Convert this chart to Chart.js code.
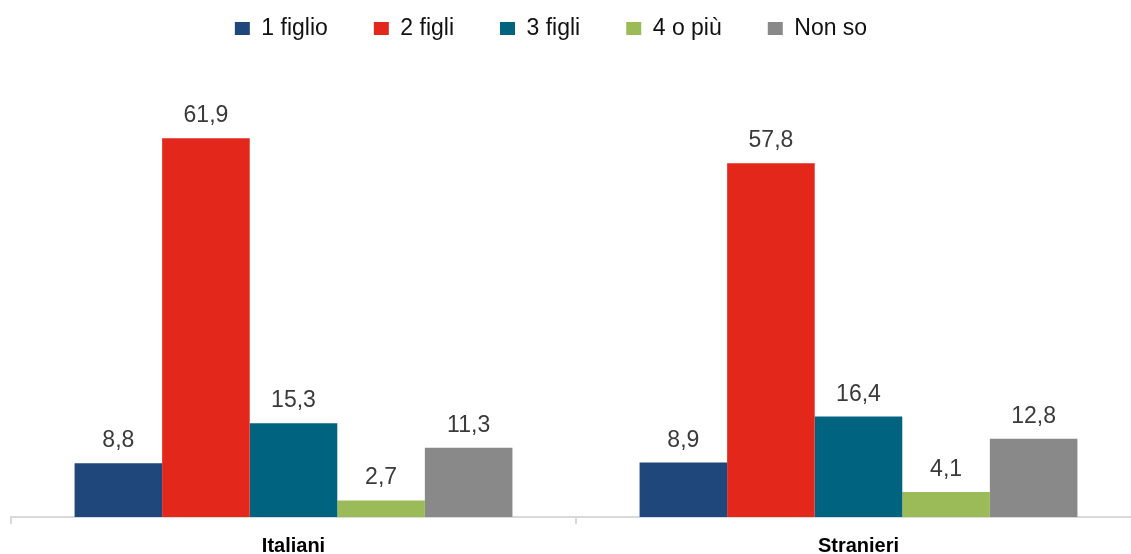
<!DOCTYPE html>
<html>
<head>
<meta charset="utf-8">
<script src="https://cdn.jsdelivr.net/npm/chart.js@4.4.1/dist/chart.umd.min.js"></script>
<style>
  html, body { margin: 0; padding: 0; background: #fff; overflow: hidden; }
  #wrap { width: 1131px; height: 554px; overflow: hidden; }
</style>
</head>
<body>
<div id="wrap"><canvas id="chart" width="1141" height="554"></canvas></div>
<script>
// --- DATA ---
const categories = ['Italiani', 'Stranieri'];
const seriesNames = ['1 figlio', '2 figli', '3 figli', '4 o più', 'Non so'];
const unFiglio = [8.8, 8.9];
const dueFigli = [61.9, 57.8];
const treFigli = [15.3, 16.4];
const quattroOPiu = [2.7, 4.1];
const nonSo = [11.3, 12.8];
const seriesColors = ['#1f477b', '#e4271b', '#006481', '#9bbb59', '#898989'];

const FONT = "'Liberation Sans', Arial, sans-serif";

// value labels on top of bars (comma decimal)
const valueLabels = {
  id: 'valueLabels',
  afterDatasetsDraw(chart) {
    const ctx = chart.ctx;
    ctx.save();
    ctx.font = '23px ' + FONT;
    ctx.fillStyle = '#3a3a3a';
    ctx.textAlign = 'center';
    ctx.textBaseline = 'alphabetic';
    chart.data.datasets.forEach((ds, i) => {
      chart.getDatasetMeta(i).data.forEach((bar, j) => {
        ctx.fillText(ds.data[j].toFixed(1).replace('.', ','), bar.x, bar.y - 16);
      });
    });
    ctx.restore();
  }
};

// legend sits a bit left of the plot centre in the original
const legendShift = {
  id: 'legendShift',
  afterLayout(chart) {
    chart.legend.left -= 25;
    chart.legend.right -= 25;
  }
};

const allSeries = [unFiglio, dueFigli, treFigli, quattroOPiu, nonSo];

new Chart(document.getElementById('chart'), {
  type: 'bar',
  data: {
    labels: categories,
    datasets: allSeries.map((vals, i) => ({
      label: seriesNames[i],
      data: vals,
      backgroundColor: seriesColors[i],
      borderWidth: 0,
      categoryPercentage: 0.775,
      barPercentage: 1
    }))
  },
  options: {
    responsive: false,
    animation: false,
    layout: { padding: { top: -29, left: 11, right: 0, bottom: -14 } },
    plugins: {
      legend: {
        position: 'top',
        labels: {
          color: '#111',
          font: { family: FONT, size: 23 },
          boxWidth: 15,
          boxHeight: 13,
          padding: 46
        }
      },
      tooltip: { enabled: false }
    },
    scales: {
      x: {
        grid: {
          display: true,
          drawOnChartArea: false,
          drawTicks: true,
          tickLength: 7,
          color: '#d9d9d9',
          lineWidth: 2
        },
        border: { display: true, color: '#d9d9d9', width: 2 },
        ticks: {
          color: '#000',
          padding: 10,
          font: { family: FONT, size: 20, weight: 'bold' }
        }
      },
      y: {
        display: false,
        min: 0,
        max: 76.3
      }
    }
  },
  plugins: [valueLabels, legendShift]
});
</script>
</body>
</html>
